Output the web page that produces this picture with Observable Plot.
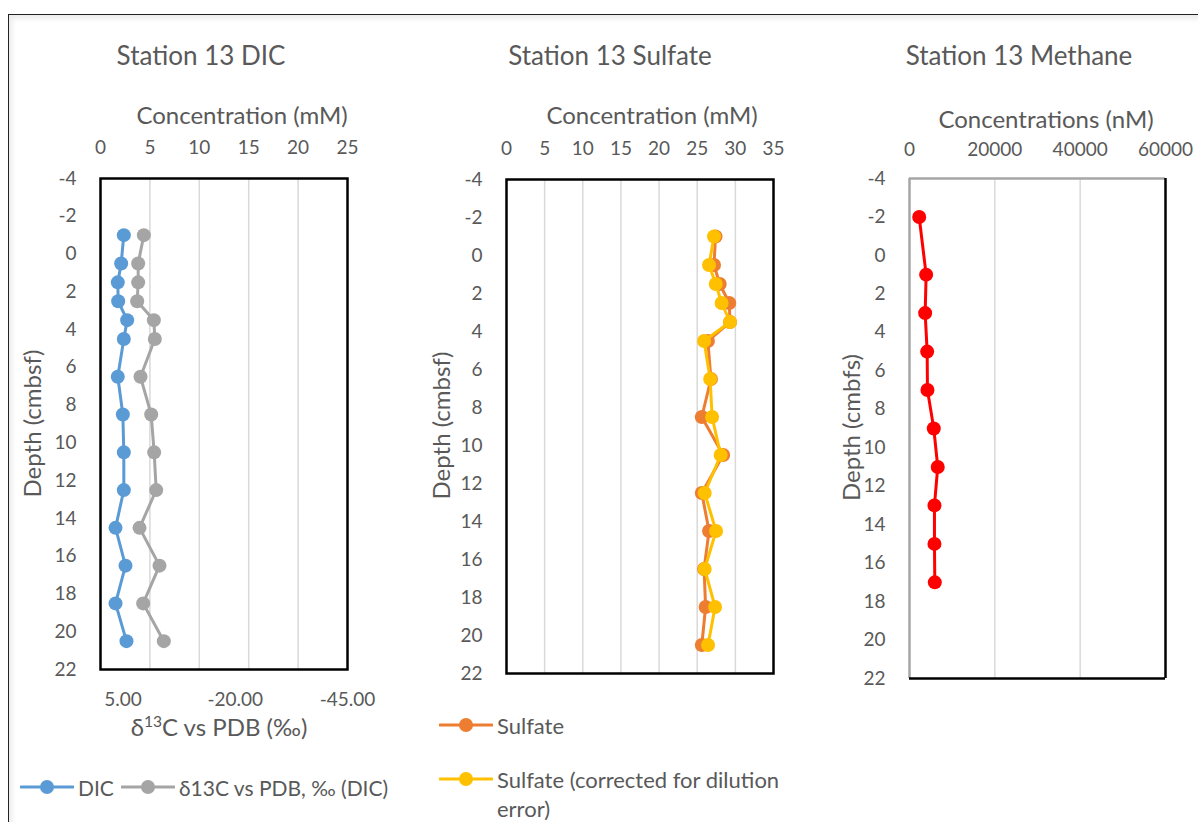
<!DOCTYPE html>
<html>
<head>
<meta charset="utf-8">
<script src="https://cdn.jsdelivr.net/npm/d3@7"></script>
<script src="https://cdn.jsdelivr.net/npm/@observablehq/plot@0.6"></script>
<style>
  html, body { margin: 0; padding: 0; background: #fff; }
  body { width: 1198px; height: 822px; position: relative; overflow: hidden; font-family: Lato, "Open Sans", sans-serif; color: #595959; }
  .frame { position: absolute; left: 8px; top: 14px; width: 1300px; height: 900px; border-top: 1.5px solid #222; border-left: 1.5px solid #222; box-shadow: inset 3px 4px 5px rgba(0,0,0,0.08); }
  .abs { position: absolute; white-space: nowrap; }
  .title { font-size: 26px; }
  .atitle { font-size: 24px; line-height: 1.05; }
  .panel { position: absolute; top: 0; }
  .leg { position: absolute; display: flex; align-items: center; font-size: 21px; white-space: nowrap; }
  .leg svg { margin-right: 4px; }
</style>
</head>
<body>
<div class="frame"></div>
<div id="p1" class="panel" style="left:0px"></div>
<div id="p1b" class="panel" style="left:0px"></div>
<div id="p2" class="panel" style="left:420px"></div>
<div id="p3" class="panel" style="left:820px"></div>
<script>
// ---------------- data ----------------
const depthTicks = [-4, -2, 0, 2, 4, 6, 8, 10, 12, 14, 16, 18, 20, 22];

// Station 13 DIC
const dicDepth = [-1, 0.5, 1.5, 2.5, 3.5, 4.5, 6.5, 8.5, 10.5, 12.5, 14.5, 16.5, 18.5, 20.5];
const dicConc = [2.36, 2.09, 1.75, 1.79, 2.70, 2.36, 1.75, 2.26, 2.36, 2.36, 1.52, 2.53, 1.52, 2.63];
const d13C = [0.35, 1.61, 1.61, 1.83, -1.88, -2.10, 1.09, -1.29, -1.95, -2.40, 1.31, -3.14, 0.50, -4.10];
const dicTicks = [0, 5, 10, 15, 20, 25];
const d13CTicks = [5, -20, -45];

// Station 13 Sulfate
const sulDepth = [-1, 0.5, 1.5, 2.5, 3.5, 4.5, 6.5, 8.5, 10.5, 12.5, 14.5, 16.5, 18.5, 20.5];
const sulfate = [27.4, 27.2, 27.95, 29.2, 29.3, 26.4, 26.8, 25.6, 28.4, 25.6, 26.55, 25.9, 26.1, 25.6];
const sulfateCorr = [27.2, 26.55, 27.43, 28.2, 29.3, 25.9, 26.7, 26.95, 28.08, 25.98, 27.47, 25.98, 27.34, 26.42];
const sulTicks = [0, 5, 10, 15, 20, 25, 30, 35];

// Station 13 Methane
const ch4Depth = [-2, 1, 3, 5, 7, 9, 11, 13, 15, 17];
const methane = [2270, 3900, 3670, 4140, 4210, 5690, 6620, 5850, 5850, 5930];
const ch4Ticks = [0, 20000, 40000, 60000];

// ---------------- styles ----------------
const C = { dic: "#5b9bd5", d13: "#a5a5a5", sul: "#ed7d31", sulc: "#ffc000", ch4: "#ff0000", grid: "#d9d9d9", text: "#595959" };
const baseStyle = { fontFamily: "Lato, 'Open Sans', sans-serif", fontSize: "19px", color: C.text, background: "transparent", overflow: "visible" };
const H = 760;
const fmtDepth = d => String(d);
const rows = (ys, xs) => ys.map((y, i) => ({ y, x: xs[i] }));

function yScale() {
  return { domain: [-4, 22], reverse: true, ticks: depthTicks, tickFormat: fmtDepth, tickSize: 0, tickPadding: 24, label: null };
}

// ---------- Panel 1: DIC (primary axis) ----------
const dicRows = rows(dicDepth, dicConc);
const p1 = Plot.plot({
  width: 420, height: H,
  marginLeft: 100, marginRight: 73, marginTop: 178, marginBottom: H - 669,
  style: baseStyle,
  x: { domain: [0, 25], axis: "top", ticks: dicTicks, tickFormat: d => String(d), tickSize: 0, tickPadding: 25, label: null },
  y: yScale(),
  marks: [
    Plot.ruleX([5, 10, 15, 20], { stroke: C.grid, strokeWidth: 1.5 }),
    Plot.frame({ stroke: "#000", strokeWidth: 2.5 }),
    Plot.line(dicRows, { x: "x", y: "y", stroke: C.dic, strokeWidth: 3 }),
    Plot.dot(dicRows, { x: "x", y: "y", r: 7, fill: C.dic, stroke: "none" })
  ]
});
document.getElementById("p1").appendChild(p1);

// ---------- Panel 1 overlay: δ13C (secondary axis, reversed) ----------
const d13Rows = rows(dicDepth, d13C);
const p1b = Plot.plot({
  width: 420, height: H,
  marginLeft: 100, marginRight: 73, marginTop: 178, marginBottom: H - 669,
  style: baseStyle,
  x: { domain: [10, -45], axis: "bottom", ticks: d13CTicks, tickFormat: d => d.toFixed(2), tickSize: 0, tickPadding: 23, label: null },
  y: { domain: [-4, 22], reverse: true, axis: null },
  marks: [
    Plot.line(d13Rows, { x: "x", y: "y", stroke: C.d13, strokeWidth: 3 }),
    Plot.dot(d13Rows, { x: "x", y: "y", r: 7, fill: C.d13, stroke: "none" })
  ]
});
document.getElementById("p1b").appendChild(p1b);

// ---------- Panel 2: Sulfate ----------
const sulRows = rows(sulDepth, sulfate);
const sulcRows = rows(sulDepth, sulfateCorr);
const p2 = Plot.plot({
  width: 400, height: H,
  marginLeft: 86, marginRight: 47, marginTop: 179, marginBottom: H - 673,
  style: baseStyle,
  x: { domain: [0, 35], axis: "top", ticks: sulTicks, tickFormat: d => String(d), tickSize: 0, tickPadding: 25, label: null },
  y: yScale(),
  marks: [
    Plot.ruleX([5, 10, 15, 20, 25, 30], { stroke: C.grid, strokeWidth: 1.5 }),
    Plot.frame({ stroke: "#000", strokeWidth: 2.5 }),
    Plot.line(sulRows, { x: "x", y: "y", stroke: C.sul, strokeWidth: 3 }),
    Plot.dot(sulRows, { x: "x", y: "y", r: 7, fill: C.sul, stroke: "none" }),
    Plot.line(sulcRows, { x: "x", y: "y", stroke: C.sulc, strokeWidth: 3 }),
    Plot.dot(sulcRows, { x: "x", y: "y", r: 7, fill: C.sulc, stroke: "none" })
  ]
});
document.getElementById("p2").appendChild(p2);

// ---------- Panel 3: Methane ----------
const ch4Rows = rows(ch4Depth, methane);
const p3 = Plot.plot({
  width: 378, height: H,
  marginLeft: 89, marginRight: 33, marginTop: 178, marginBottom: H - 678,
  style: baseStyle,
  x: { domain: [0, 60000], axis: "top", ticks: ch4Ticks, tickFormat: d => String(d), tickSize: 0, tickPadding: 23, label: null },
  y: yScale(),
  marks: [
    Plot.ruleX([20000, 40000], { stroke: C.grid, strokeWidth: 1.5 }),
    Plot.ruleX([0], { stroke: "#a6a6a6", strokeWidth: 2.5 }),
    Plot.ruleY([-4], { stroke: "#a6a6a6", strokeWidth: 2.5 }),
    Plot.ruleX([60000], { stroke: "#000", strokeWidth: 2.5 }),
    Plot.ruleY([22], { stroke: "#000", strokeWidth: 2.5 }),
    Plot.line(ch4Rows, { x: "x", y: "y", stroke: C.ch4, strokeWidth: 3 }),
    Plot.dot(ch4Rows, { x: "x", y: "y", r: 7, fill: C.ch4, stroke: "none" })
  ]
});
document.getElementById("p3").appendChild(p3);

// ---------- HTML text: titles, axis titles, legends ----------
function addText(txt, cls, css) {
  const d = document.createElement("div");
  d.className = "abs " + cls;
  d.innerHTML = txt;
  Object.assign(d.style, css);
  document.body.appendChild(d);
  return d;
}
function centerAt(el, cx, cy) {
  const r = el.getBoundingClientRect();
  el.style.left = (cx - r.width / 2) + "px";
  el.style.top = (cy - r.height / 2) + "px";
  return el;
}
function rotLabel(txt, cx, cy) {
  const el = addText(txt, "atitle", {});
  const r = el.getBoundingClientRect();
  el.style.left = (cx - r.width / 2) + "px";
  el.style.top = (cy - r.height / 2) + "px";
  el.style.transform = "rotate(-90deg)";
}

centerAt(addText("Station 13 DIC", "title", {}), 201, 55);
centerAt(addText("Station 13 Sulfate", "title", {}), 610, 55);
centerAt(addText("Station 13 Methane", "title", {}), 1019, 55);

centerAt(addText("Concentration (mM)", "atitle", {}), 242, 115);
centerAt(addText("Concentration (mM)", "atitle", {}), 652, 115);
centerAt(addText("Concentrations (nM)", "atitle", {}), 1046, 119);
centerAt(addText("δ<sup style='font-size:0.65em'>13</sup>C vs PDB (‰)", "atitle", {lineHeight: "1"}), 219, 726);

rotLabel("Depth (cmbsf)", 32, 424);
rotLabel("Depth (cmbsf)", 441, 426);
rotLabel("Depth (cmbfs)", 851, 428);

function swatch(color) {
  return `<svg width="54" height="16"><line x1="1" x2="53" y1="8" y2="8" stroke="${color}" stroke-width="3" stroke-linecap="round"/><circle cx="27" cy="8" r="7" fill="${color}"/></svg>`;
}
function legend(color, txt, x, y, fs) {
  const d = document.createElement("div");
  d.className = "leg";
  d.innerHTML = swatch(color) + `<span>${txt}</span>`;
  d.style.left = x + "px";
  d.style.fontSize = fs + "px";
  document.body.appendChild(d);
  const r = d.getBoundingClientRect();
  d.style.top = (y - r.height / 2) + "px";
}
legend(C.dic, "DIC", 20, 787, 21);
legend(C.d13, "δ13C vs PDB, ‰ (DIC)", 121, 787, 21);
legend(C.sul, "Sulfate", 439, 725, 22);
legend(C.sulc, "Sulfate (corrected for dilution", 439, 779, 22);
const err = centerAt(addText("error)", "", { fontSize: "22px" }), 0, 808);
err.style.left = "497px";
</script>
</body>
</html>
